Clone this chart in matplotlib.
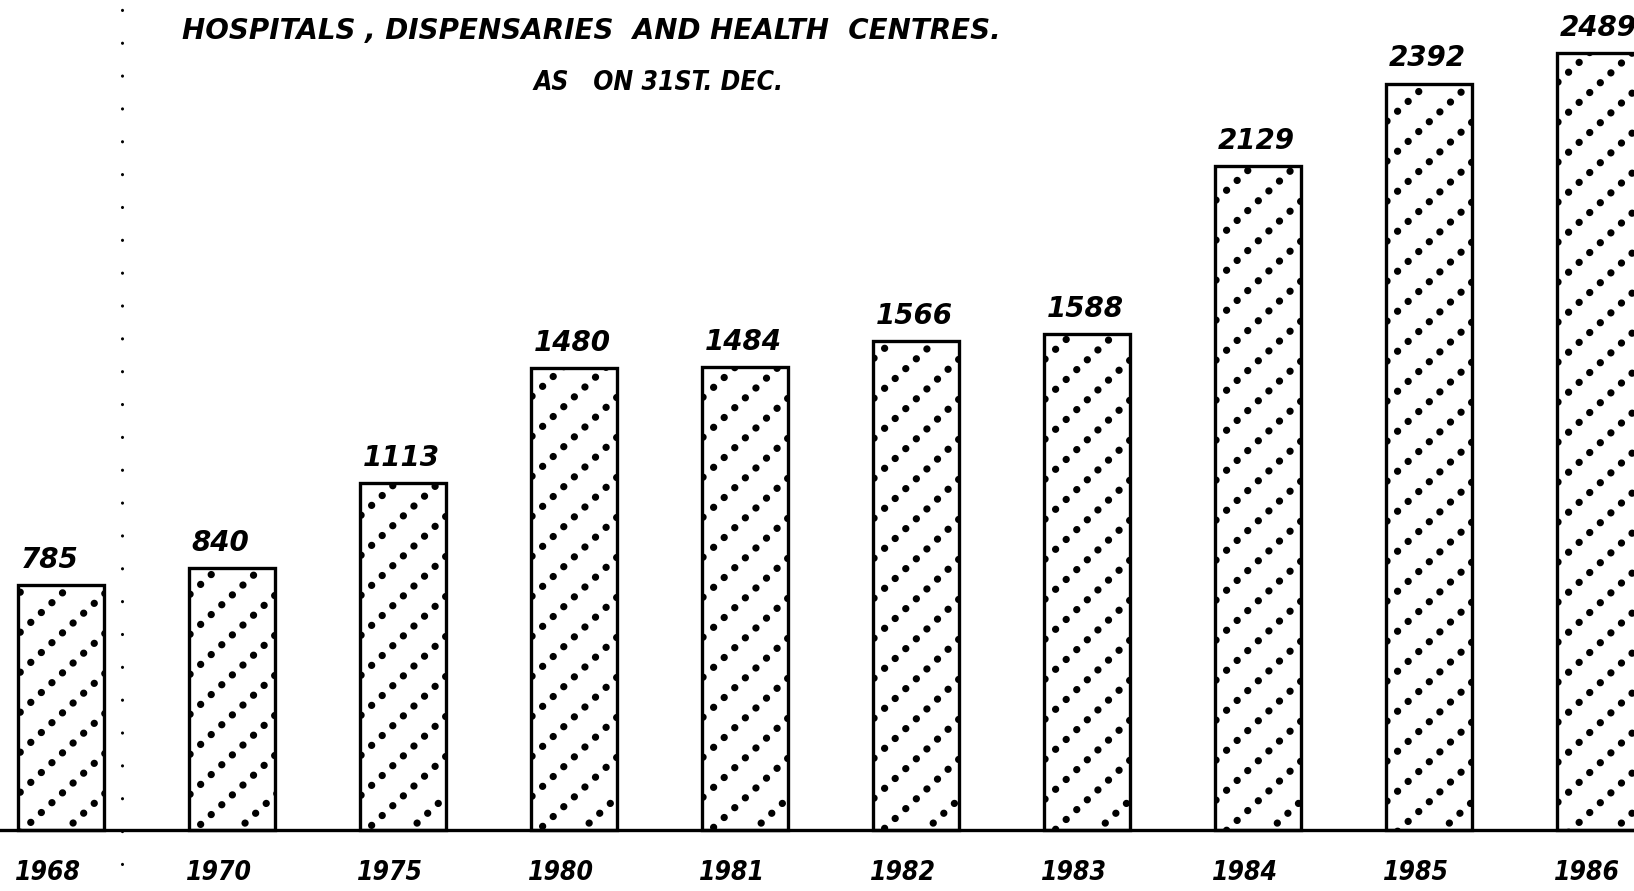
import matplotlib
matplotlib.use('Agg')
import matplotlib.pyplot as plt
import numpy as np

years = ['1968', '1970', '1975', '1980', '1981', '1982', '1983', '1984', '1985', '1986']
values = [785, 840, 1113, 1480, 1484, 1566, 1588, 2129, 2392, 2489]
title1 = 'HOSPITALS , DISPENSARIES  AND HEALTH  CENTRES.'
title2 = 'AS   ON 31ST. DEC.'

W, H = 1634, 891
fig = plt.figure(figsize=(W / 100, H / 100), dpi=100)
ax = fig.add_axes([0, 0, 1, 1])
ax.set_xlim(-0.357, 9.199)
ax.set_ylim(-196, 2660)
ax.axis('off')

x = np.arange(len(years))
width = 0.505
bars = ax.bar(x, values, width, facecolor='white', edgecolor='black',
              linewidth=2.4, zorder=3)

condkw = dict(family=['DejaVu Sans'], style='italic', weight='bold',
              fontstretch='condensed')
normkw = dict(family=['DejaVu Sans'], style='italic', weight='bold')

# dotted diagonal fill pattern, clipped to each bar
fig.canvas.draw()
inv = ax.transData.inverted()
slope = 0.93
spacing = 40
for b in bars:
    bb = b.get_window_extent()
    x0, x1, y0, y1 = bb.x0, bb.x1, bb.y0, bb.y1
    cmin = y0 - slope * x1 - spacing
    cmax = y1 - slope * x0 + spacing
    cs = np.arange(np.floor(cmin / spacing) * spacing, cmax, spacing)
    for c in cs:
        xs = np.array([x0 - 20, x1 + 20])
        ys = slope * xs + c
        pts = inv.transform(np.column_stack([xs, ys]))
        ln, = ax.plot(pts[:, 0], pts[:, 1], color='black', lw=5.2,
                      linestyle=(0, (0.02, 1.98)), dash_capstyle='round',
                      zorder=3.5)
        ln.set_clip_path(b)

# baseline
ax.axhline(0, color='black', lw=2.4, zorder=4)

# dotted vertical line
xv = (122 - 61) / 171
ax.plot([xv, xv], [-110, 2640], color='black', lw=2.2,
        linestyle=(0, (0.05, 10.7)), dash_capstyle='round', zorder=1)

# value labels
for xi, v in zip(x, values):
    ax.annotate(str(v), (xi - width / 2, v), xytext=(2, 8),
                textcoords='offset points', ha='left', va='bottom',
                fontsize=20, **normkw)

# year labels
for xi, yr in zip(x, years):
    ax.annotate(yr, (xi - width / 2, 0), xytext=(-2, -22),
                textcoords='offset points', ha='left', va='top',
                fontsize=19, **condkw)

fig.text(182 / W, 1 - 31 / H, title1, ha='left', va='center', fontsize=20,
         **normkw)
fig.text(534 / W, 1 - 83 / H, title2, ha='left', va='center', fontsize=19,
         **condkw)

fig.savefig('out.png', dpi=100)
